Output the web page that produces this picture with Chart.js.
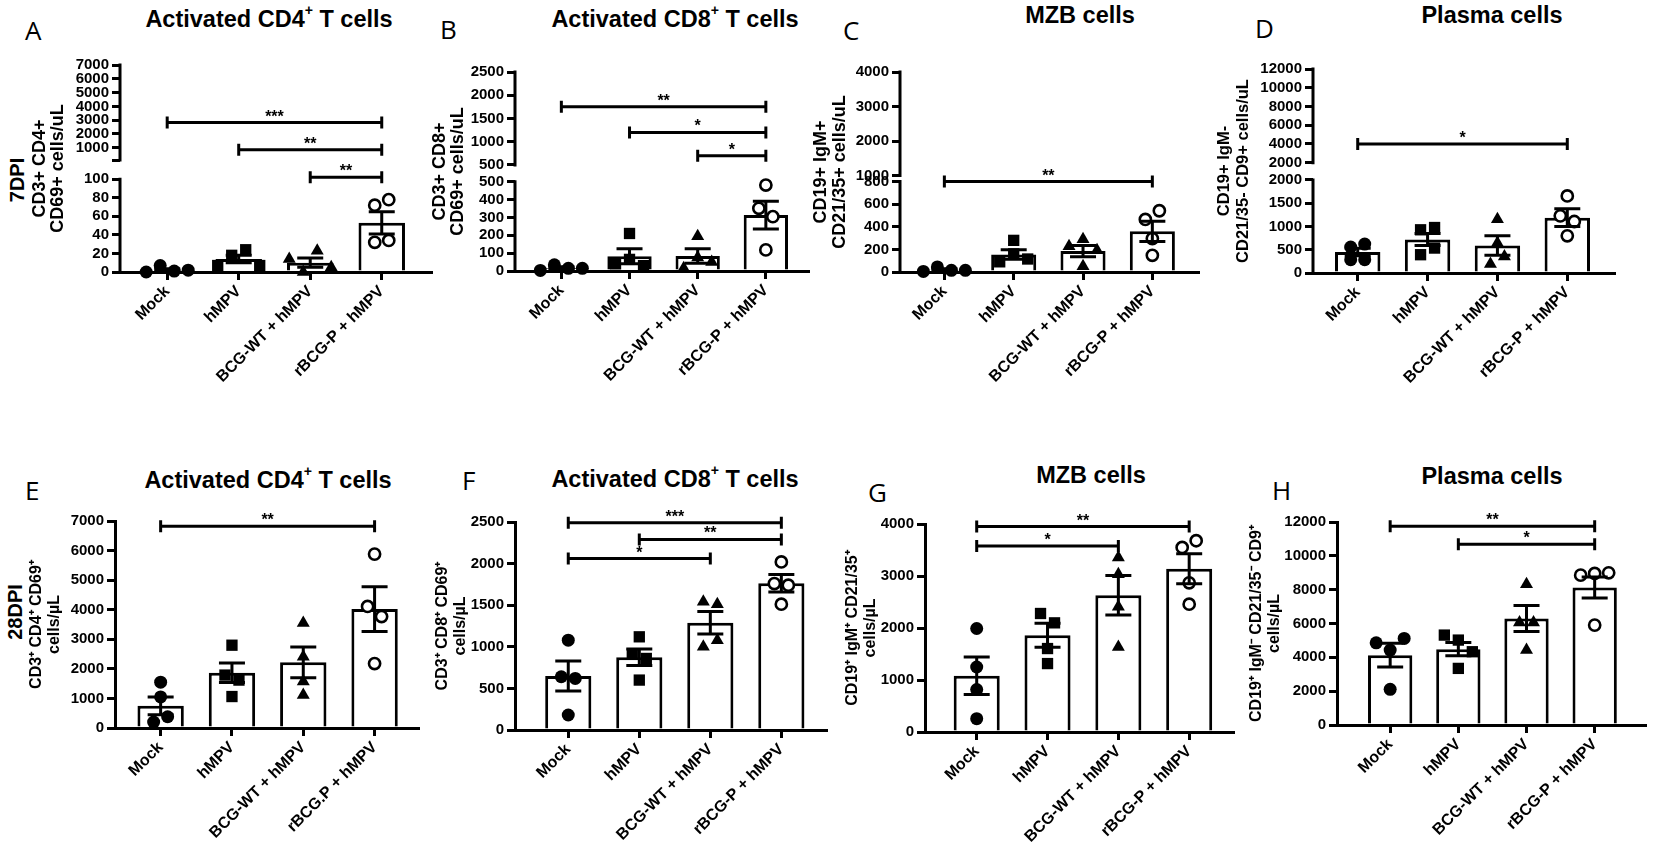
<!DOCTYPE html>
<html><head><meta charset="utf-8">
<script src="https://cdn.jsdelivr.net/npm/chart.js@4.4.1/dist/chart.umd.min.js"></script>
<style>
html,body{margin:0;padding:0;background:#fff;}
body{width:1655px;height:846px;position:relative;overflow:hidden;font-family:'Liberation Sans',Arial,sans-serif;}
.title{position:absolute;width:400px;text-align:center;font-weight:bold;font-size:23.5px;line-height:28px;color:#000;white-space:nowrap;}
.title sup{font-size:0.6em;line-height:0;position:relative;top:-0.2em;vertical-align:super;}
.letter{position:absolute;font-family:'Open Sans',sans-serif;font-size:26px;line-height:26px;color:#000;}
.dpi{position:absolute;font-weight:bold;font-size:20px;line-height:20px;color:#000;transform:translate(-50%,-50%) rotate(-90deg);white-space:nowrap;}
canvas{position:absolute;}
</style></head><body>
<div class="letter" style="left:25px;top:17px">A</div>
<div class="letter" style="left:440px;top:16px">B</div>
<div class="letter" style="left:843px;top:17px">C</div>
<div class="letter" style="left:1255px;top:15px">D</div>
<div class="letter" style="left:25px;top:477px">E</div>
<div class="letter" style="left:462px;top:467px">F</div>
<div class="letter" style="left:868px;top:479px">G</div>
<div class="letter" style="left:1272px;top:477px">H</div>
<div class="title" style="left:69px;top:4.6px">Activated CD4<sup>+</sup> T cells</div>
<div class="title" style="left:475px;top:4.6px">Activated CD8<sup>+</sup> T cells</div>
<div class="title" style="left:880px;top:0.5px">MZB cells</div>
<div class="title" style="left:1292px;top:0.5px">Plasma cells</div>
<div class="title" style="left:68px;top:465.8px">Activated CD4<sup>+</sup> T cells</div>
<div class="title" style="left:475px;top:464.6px">Activated CD8<sup>+</sup> T cells</div>
<div class="title" style="left:891px;top:461.3px">MZB cells</div>
<div class="title" style="left:1292px;top:462.1px">Plasma cells</div>
<div class="dpi" style="left:17px;top:180px">7DPI</div>
<div class="dpi" style="left:15px;top:612px">28DPI</div>
<script>
// ---------------- DATA ----------------
const CATS = ['Mock', 'hMPV', 'BCG-WT + hMPV', 'rBCG-P + hMPV'];
const CATS_E = ['Mock', 'hMPV', 'BCG-WT + hMPV', 'rBCG.P + hMPV'];

// A: 7DPI activated CD4+ T cells
const A_mock = [0, 7, 1, 2];
const A_hmpv = [7, 18, 24, 7];
const A_bcgwt = [14, 0, 23, 5];
const A_rbcgp = [72, 78, 32, 34];
const A_mean = [2, 14, 10, 53];
const A_sem = [1.5, 4, 5, 12];
const A_lowTicks = [0, 20, 40, 60, 80, 100];
const A_highTicks = [1000, 2000, 3000, 4000, 5000, 6000, 7000];
const A_sig = [[0, 3, '***', 2830], [1, 3, '**', 850], [2, 3, '**', 101]];

// B: 7DPI activated CD8+ T cells
const B_mock = [3, 35, 15, 15];
const B_hmpv = [40, 210, 65, 30];
const B_bcgwt = [15, 195, 75, 50];
const B_rbcgp = [481, 351, 304, 118];
const B_mean = [17, 82, 84, 313];
const B_sem = [7, 42, 40, 78];
const B_lowTicks = [0, 100, 200, 300, 400, 500];
const B_highTicks = [500, 1000, 1500, 2000, 2500];
const B_sig = [[0, 3, '**', 1750], [1, 3, '*', 1200], [2, 3, '*', 700]];

// C: 7DPI MZB cells
const C_mock = [5, 45, 15, 15];
const C_hmpv = [90, 280, 160, 115];
const C_bcgwt = [228, 290, 193, 50];
const C_rbcgp = [465, 542, 296, 148];
const C_mean = [20, 155, 185, 360];
const C_sem = [9, 42, 50, 90];
const C_lowTicks = [0, 200, 400, 600, 800];
const C_highTicks = [1000, 2000, 3000, 4000];
const C_sig = [[0, 3, '**', 800]];

// D: 7DPI plasma cells
const D_mock = [557, 286, 621, 286];
const D_hmpv = [929, 393, 978, 536];
const D_bcgwt = [1157, 643, 193, 357];
const D_rbcgp = [1657, 1229, 1107, 800];
const D_mean = [450, 720, 590, 1190];
const D_sem = [80, 130, 210, 190];
const D_lowTicks = [0, 500, 1000, 1500, 2000];
const D_highTicks = [2000, 4000, 6000, 8000, 10000, 12000];
const D_sig = [[0, 3, '*', 4000]];

// E: 28DPI activated CD4+ T cells
const E_mock = [1050, 1550, 200, 380];
const E_hmpv = [2800, 1064, 1790, 1620];
const E_bcgwt = [3550, 2410, 1120, 1570];
const E_rbcgp = [5880, 4110, 3770, 2180];
const E_mean = [750, 1870, 2220, 4020];
const E_sem = [300, 330, 520, 760];
const E_sig = [[0, 3, '**', 6820]];

// F: 28DPI activated CD8+ T cells
const F_mock = [1080, 640, 620, 180];
const F_hmpv = [1120, 912, 860, 600];
const F_bcgwt = [1540, 1512, 1000, 1080];
const F_rbcgp = [2020, 1760, 1740, 1512];
const F_mean = [650, 875, 1290, 1765];
const F_sem = [180, 100, 135, 105];
const F_sig = [[0, 3, '***', 2490], [1, 3, '**', 2290], [0, 2, '*', 2060]];

// G: 28DPI MZB cells
const G_mock = [1990, 1250, 815, 257];
const G_hmpv = [2279, 2099, 1605, 1316];
const G_bcgwt = [3357, 3036, 2407, 1637];
const G_rbcgp = [3549, 3678, 2869, 2458];
const G_mean = [1080, 1860, 2630, 3140];
const G_sem = [360, 230, 380, 290];
const G_sig = [[0, 3, '**', 3950], [0, 2, '*', 3575]];

// H: 28DPI plasma cells
const H_mock = [4860, 4430, 5118, 2106];
const H_hmpv = [5315, 5020, 4331, 3346];
const H_bcgwt = [8327, 6063, 6063, 4430];
const H_rbcgp = [8858, 8957, 8996, 5906];
const H_mean = [4130, 4480, 6300, 8130];
const H_sem = [700, 390, 770, 620];
const H_sig = [[0, 3, '**', 11750], [1, 3, '*', 10690]];

// ---------------- LAYOUT / STYLE ----------------
const PAD_T = 15, STEP = 14, MARK = 12, EPS = 1e-6;
const BREAKS = {};
const MARKERS = [
  {pointStyle: 'circle', radius: 6.5, bg: '#000', bw: 0},
  {pointStyle: 'rect', radius: 8, bg: '#000', bw: 0},
  {pointStyle: 'triangle', radius: 7.5, bg: '#000', bw: 0},
  {pointStyle: 'circle', radius: 5.6, bg: '#fff', bw: 2.6}
];

const PANELS = [
  {id: 'A', groups: [A_mock, A_hmpv, A_bcgwt, A_rbcgp], mean: A_mean, sem: A_sem, sig: A_sig, cats: CATS,
   yTitle: ['CD3+ CD4+', 'CD69+ cells/uL'], tsize: 18, lh: 18.5, xsize: 16, ysize: 15,
   brk: {low: A_lowTicks, high: A_highTicks, cap: 110, lowFrac: 0.448, gapFrac: 0.093},
   L: 120, R: 435, T: 65, B: 272, X1: 40, xmin: -0.66, xmax: 3.7, xh: 150, padR: 5},
  {id: 'B', groups: [B_mock, B_hmpv, B_bcgwt, B_rbcgp], mean: B_mean, sem: B_sem, sig: B_sig, cats: CATS,
   yTitle: ['CD3+ CD8+', 'CD69+ cells/uL'], tsize: 18, lh: 18.5, xsize: 16, ysize: 15,
   brk: {low: B_lowTicks, high: B_highTicks, lowFrac: 0.449, gapFrac: 0.084},
   L: 515, R: 812, T: 72, B: 271, X1: 440, xmin: -0.68, xmax: 3.63, xh: 150, padR: 5},
  {id: 'C', groups: [C_mock, C_hmpv, C_bcgwt, C_rbcgp], mean: C_mean, sem: C_sem, sig: C_sig, cats: CATS,
   yTitle: ['CD19+ IgM+', 'CD21/35+ cells/uL'], tsize: 18, lh: 19.5, xsize: 16, ysize: 15,
   brk: {low: C_lowTicks, high: C_highTicks, lowFrac: 0.452, gapFrac: 0.03},
   L: 900, R: 1202, T: 72, B: 272, X1: 821, xmin: -0.64, xmax: 3.67, xh: 150, padR: 5},
  {id: 'D', groups: [D_mock, D_hmpv, D_bcgwt, D_rbcgp], mean: D_mean, sem: D_sem, sig: D_sig, cats: CATS,
   yTitle: ['CD19+ IgM-', 'CD21/35- CD9+ cells/uL'], tsize: 16.5, lh: 19.5, xsize: 16, ysize: 15,
   brk: {low: D_lowTicks, high: D_highTicks, lowFrac: 0.456, gapFrac: 0.085},
   L: 1313, R: 1618, T: 69, B: 273, X1: 1224, xmin: -0.64, xmax: 3.68, xh: 150, padR: 5},
  {id: 'E', groups: [E_mock, E_hmpv, E_bcgwt, E_rbcgp], mean: E_mean, sem: E_sem, sig: E_sig, cats: CATS_E,
   yTitle: ['CD3\u207A CD4\u207A CD69\u207A', 'cells/\u00B5L'], tsize: 16, lh: 18, xsize: 16, ysize: 15,
   ymax: 7000, ystep: 1000,
   L: 115, R: 422, T: 521, B: 728, X1: 37, xmin: -0.64, xmax: 3.62, xh: 116, padR: 5},
  {id: 'F', groups: [F_mock, F_hmpv, F_bcgwt, F_rbcgp], mean: F_mean, sem: F_sem, sig: F_sig, cats: CATS,
   yTitle: ['CD3\u207A CD8\u207A CD69\u207A', 'cells/\u00B5L'], tsize: 16, lh: 18, xsize: 16, ysize: 15,
   ymax: 2500, ystep: 500,
   L: 515, R: 830, T: 522, B: 730, X1: 443, xmin: -0.75, xmax: 3.64, xh: 114, padR: 5},
  {id: 'G', groups: [G_mock, G_hmpv, G_bcgwt, G_rbcgp], mean: G_mean, sem: G_sem, sig: G_sig, cats: CATS,
   yTitle: ['CD19\u207A IgM\u207A CD21/35\u207A', 'cells/\u00B5L'], tsize: 16, lh: 18, xsize: 16, ysize: 15,
   ymax: 4000, ystep: 1000,
   L: 925, R: 1237, T: 524, B: 732, X1: 853, xmin: -0.73, xmax: 3.63, xh: 112, padR: 5},
  {id: 'H', groups: [H_mock, H_hmpv, H_bcgwt, H_rbcgp], mean: H_mean, sem: H_sem, sig: H_sig, cats: CATS,
   yTitle: ['CD19\u207A IgM\u207B CD21/35\u207B CD9\u207A', 'cells/\u00B5L'], tsize: 16, lh: 18, xsize: 16, ysize: 15,
   ymax: 12000, ystep: 2000,
   L: 1337, R: 1650, T: 522, B: 725, X1: 1257, xmin: -0.78, xmax: 3.75, xh: 118, padR: 4}
];

// ---------------- BROKEN Y SCALE ----------------
class BrokenScale extends Chart.LinearScale {
  getPixelForValue(value) {
    const b = BREAKS[this.chart.canvas.id];
    if (!b || value === null || value === undefined || isNaN(value)) return super.getPixelForValue(value);
    const H = this.bottom - this.top;
    const lowH = H * b.lowFrac, gapH = H * b.gapFrac, highH = H - lowH - gapH;
    if (value <= b.lowMax) return this.bottom - (value - this.min) / (b.lowMax - this.min) * lowH;
    if (value < b.highMin) return this.bottom - lowH - (value - b.lowMax) / (b.highMin - b.lowMax) * gapH;
    return this.bottom - lowH - gapH - (value - b.highMin) / (this.max - b.highMin) * highH;
  }
  getValueForPixel(pixel) {
    const b = BREAKS[this.chart.canvas.id];
    if (!b) return super.getValueForPixel(pixel);
    const H = this.bottom - this.top;
    const lowH = H * b.lowFrac, gapH = H * b.gapFrac, highH = H - lowH - gapH;
    const d = this.bottom - pixel;
    if (d <= lowH) return this.min + d / lowH * (b.lowMax - this.min);
    if (d <= lowH + gapH) return b.lowMax + (d - lowH) / gapH * (b.highMin - b.lowMax);
    return b.highMin + (d - lowH - gapH) / highH * (this.max - b.highMin);
  }
}
BrokenScale.id = 'broken';
Chart.register(BrokenScale);

Chart.defaults.font.family = "'Liberation Sans', Arial, sans-serif";
Chart.defaults.color = '#000';

function decor(p) {
  return {
    id: 'decor' + p.id,
    afterDatasetsDraw(chart) {
      const ctx = chart.ctx, xs = chart.scales.x, ys = chart.scales.y;
      ctx.save();
      ctx.strokeStyle = '#000'; ctx.fillStyle = '#000'; ctx.lineWidth = 3; ctx.lineCap = 'butt';
      // broken y axis segments
      if (p.brk) {
        const b = BREAKS[chart.canvas.id];
        const ax = chart.chartArea.left;
        ctx.beginPath();
        ctx.moveTo(ax, ys.getPixelForValue(0) + 1.5); ctx.lineTo(ax, ys.getPixelForValue(b.lowMax) - 1.5);
        ctx.moveTo(ax, ys.getPixelForValue(b.highMin) + 1.5); ctx.lineTo(ax, ys.getPixelForValue(ys.max) - 1.5);
        ctx.stroke();
      }
      // error bars (mean ± SEM)
      p.mean.forEach((m, i) => {
        const s = p.sem[i], cx = xs.getPixelForValue(i);
        const yt = ys.getPixelForValue(m + s), yb = ys.getPixelForValue(Math.max(m - s, 0));
        ctx.beginPath();
        ctx.moveTo(cx, yt); ctx.lineTo(cx, yb);
        ctx.moveTo(cx - 13, yt); ctx.lineTo(cx + 13, yt);
        ctx.moveTo(cx - 13, yb); ctx.lineTo(cx + 13, yb);
        ctx.stroke();
      });
      // significance brackets
      ctx.font = "bold 16px 'Liberation Sans', Arial, sans-serif";
      ctx.textAlign = 'center'; ctx.textBaseline = 'alphabetic';
      p.sig.forEach(([a, bIdx, label, v]) => {
        const x0 = xs.getPixelForValue(a), x1 = xs.getPixelForValue(bIdx), py = ys.getPixelForValue(v);
        ctx.beginPath();
        ctx.moveTo(x0, py); ctx.lineTo(x1, py);
        ctx.moveTo(x0, py - 6); ctx.lineTo(x0, py + 6);
        ctx.moveTo(x1, py - 6); ctx.lineTo(x1, py + 6);
        ctx.stroke();
        ctx.fillText(label, (x0 + x1) / 2, py - 1);
      });
      ctx.restore();
    }
  };
}

function dodge(chart, p) {
  const xs = chart.scales.x, ys = chart.scales.y;
  const unit = xs.getPixelForValue(1) - xs.getPixelForValue(0);
  p.groups.forEach((vals, g) => {
    const py = vals.map(v => ys.getPixelForValue(v));
    const idx = vals.map((_, i) => i).sort((a, b) => py[a] - py[b]);
    const clusters = []; let cur = [idx[0]];
    for (let k = 1; k < idx.length; k++) {
      if (py[idx[k]] - py[cur[cur.length - 1]] < MARK) cur.push(idx[k]);
      else { clusters.push(cur); cur = [idx[k]]; }
    }
    clusters.push(cur);
    const off = vals.map(() => 0);
    clusters.forEach(c => {
      const srt = c.slice().sort((a, b) => a - b);
      srt.forEach((i, j) => { off[i] = (j - (srt.length - 1) / 2) * STEP; });
    });
    chart.data.datasets[g + 1].data = vals.map((v, i) => ({x: g + off[i] / unit, y: v}));
  });
  chart.update('none');
}

PANELS.forEach(p => {
  const left = p.X1 - 20, yw = p.L - left;
  const top = p.T - PAD_T;
  const w = p.R - left + p.padR;
  const h = PAD_T + (p.B - p.T) + p.xh;
  const cv = document.createElement('canvas');
  cv.id = 'cv' + p.id; cv.width = w; cv.height = h;
  cv.style.left = left + 'px'; cv.style.top = top + 'px';
  cv.style.width = w + 'px'; cv.style.height = h + 'px';
  document.body.appendChild(cv);

  let yScale;
  const yCommon = {
    afterFit: s => { s.width = yw; },
    grid: {drawOnChartArea: false, drawTicks: true, tickLength: 8, color: '#000', lineWidth: 3},
    title: {display: true, text: p.yTitle, color: '#000',
            font: {size: p.tsize, weight: 'bold', lineHeight: p.lh / p.tsize},
            padding: {top: 20 - p.lh / 2, bottom: 0}}
  };
  if (p.brk) {
    const lowMax = p.brk.low[p.brk.low.length - 1];
    let highMin = p.brk.cap !== undefined ? p.brk.cap : p.brk.high[0];
    if (highMin === lowMax) highMin += EPS;
    BREAKS[cv.id] = {lowMax, highMin, lowFrac: p.brk.lowFrac, gapFrac: p.brk.gapFrac};
    yScale = Object.assign({}, yCommon, {
      type: 'broken', min: 0, max: p.brk.high[p.brk.high.length - 1],
      afterBuildTicks: s => {
        const t = [], lab = [];
        p.brk.low.forEach(v => { t.push({value: v}); lab.push(String(v)); });
        if (p.brk.cap !== undefined) { t.push({value: p.brk.cap}); lab.push(''); }
        p.brk.high.forEach(v => { t.push({value: v === lowMax ? v + EPS : v}); lab.push(String(v)); });
        s.ticks = t; s.$labels = lab;
      },
      ticks: {autoSkip: false, color: '#000', padding: 3, font: {size: p.ysize, weight: 'bold'},
              callback: function (v, i) { return this.$labels ? this.$labels[i] : String(v); }},
      border: {display: false}
    });
  } else {
    yScale = Object.assign({}, yCommon, {
      type: 'linear', min: 0, max: p.ymax,
      ticks: {stepSize: p.ystep, autoSkip: false, color: '#000', padding: 3, font: {size: p.ysize, weight: 'bold'},
              callback: v => String(v)},
      border: {display: true, color: '#000', width: 3}
    });
  }

  const datasets = [{
    type: 'bar', order: 2,
    data: p.mean.map((m, i) => ({x: i, y: m})),
    backgroundColor: '#fff', borderColor: '#000', borderWidth: 3,
    barPercentage: 0.65, categoryPercentage: 1, borderSkipped: 'start'
  }];
  p.groups.forEach((vals, g) => {
    const mk = MARKERS[g];
    datasets.push({
      type: 'scatter', order: 1, clip: false,
      data: vals.map(v => ({x: g, y: v})),
      pointStyle: mk.pointStyle, pointRadius: mk.radius,
      backgroundColor: mk.bg, pointBackgroundColor: mk.bg,
      borderColor: '#000', pointBorderColor: '#000',
      borderWidth: mk.bw, pointBorderWidth: mk.bw
    });
  });

  const chart = new Chart(cv, {
    type: 'bar',
    data: {datasets},
    options: {
      responsive: false, animation: false, events: [],
      layout: {padding: {top: PAD_T, right: p.padR, left: 0, bottom: 0}},
      plugins: {legend: {display: false}, tooltip: {enabled: false}, title: {display: false}},
      scales: {
        x: {
          type: 'linear', min: p.xmin, max: p.xmax, offset: false,
          afterBuildTicks: s => { s.ticks = p.cats.map((_, i) => ({value: i})); },
          afterFit: s => { s.height = p.xh; },
          ticks: {autoSkip: false, maxRotation: 45, minRotation: 45, padding: 2, color: '#000',
                  font: {size: p.xsize, weight: 'bold'}, callback: (v, i) => p.cats[i]},
          grid: {drawOnChartArea: false, drawTicks: true, tickLength: 8, color: '#000', lineWidth: 3, offset: false},
          border: {display: true, color: '#000', width: 3}
        },
        y: yScale
      }
    },
    plugins: [decor(p)]
  });
  dodge(chart, p);
});
</script>
</body></html>
